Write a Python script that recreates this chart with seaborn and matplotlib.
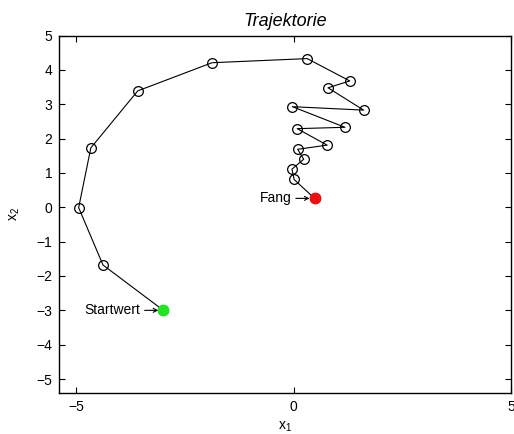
import matplotlib
matplotlib.use("Agg")
import matplotlib.pyplot as plt
import seaborn as sns
import pandas as pd

# Trajectory points in the (x1, x2) plane, from the start value to the catch point
x1 = [-3.0, -4.39, -4.95, -4.67, -3.59, -1.88, 0.31, 1.29, 0.79, 1.61, -0.03,
      1.18, 0.08, 0.77, 0.09, 0.23, -0.04, 0.01, 0.48]
x2 = [-3.0, -1.68, -0.01, 1.73, 3.39, 4.21, 4.33, 3.68, 3.48, 2.83, 2.93,
      2.33, 2.29, 1.81, 1.69, 1.40, 1.11, 0.81, 0.26]

start_label = "Startwert"
end_label = "Fang"
title = "Trajektorie"
ticks = [-5, 0, 5]

sns.set_style("white")
plt.rcParams["font.family"] = ["Liberation Sans", "DejaVu Sans"]
plt.rcParams["mathtext.default"] = "regular"
for key in ["text.color", "axes.labelcolor", "xtick.color", "ytick.color",
            "axes.edgecolor"]:
    plt.rcParams[key] = "black"

df = pd.DataFrame({"x1": x1, "x2": x2})

fig = plt.figure(figsize=(5.14, 4.34), dpi=100)
ax = fig.add_axes([0.115, 0.095, 0.879, 0.823])

# intermediate iterates: line with open circles
sns.lineplot(data=df, x="x1", y="x2", sort=False, estimator=None, ax=ax,
             color="black", linewidth=0.8, marker="o", markersize=7,
             markerfacecolor="none", markeredgecolor="black",
             markeredgewidth=0.9)

# start and end points
ax.plot(x1[0], x2[0], "o", color="#22e622", markersize=7.5, zorder=5)
ax.plot(x1[-1], x2[-1], "o", color="#ee1111", markersize=7.5, zorder=5)

# labels with a short arrow pointing at the marked point
for (px, py, lab) in [(x1[0], x2[0], start_label), (x1[-1], x2[-1], end_label)]:
    ax.annotate("", xy=(px, py), xytext=(-13.5, 0),
                textcoords="offset points",
                arrowprops=dict(arrowstyle="->", lw=0.8, color="black",
                                shrinkA=0, shrinkB=3.6,
                                mutation_scale=7))
    ax.annotate(lab, xy=(px, py), xytext=(-16.5, 0),
                textcoords="offset points", ha="right", va="center",
                fontsize=10, color="black")

ax.set_xlim(-5.4, 5)
ax.set_ylim(-5.4, 5)
ax.set_xticks(ticks)
ax.set_yticks(list(range(-5, 6)))
ax.set_xticklabels(["\u22125", "0", "5"])
ax.set_yticklabels([("\u2212" + str(-v)) if v < 0 else str(v)
                    for v in range(-5, 6)])
ax.tick_params(direction="in", length=4, width=0.8, labelsize=10,
               top=True, right=True, bottom=True, left=True, pad=5,
               colors="black")
for s in ax.spines.values():
    s.set_color("black")
    s.set_linewidth(1.0)

ax.set_xlabel("$x_1$", fontsize=10, labelpad=4)
ax.set_ylabel("$x_2$", fontsize=10, labelpad=10)
ax.set_title(title, fontsize=13, style="italic", pad=7)

fig.savefig("out.png", dpi=100)
